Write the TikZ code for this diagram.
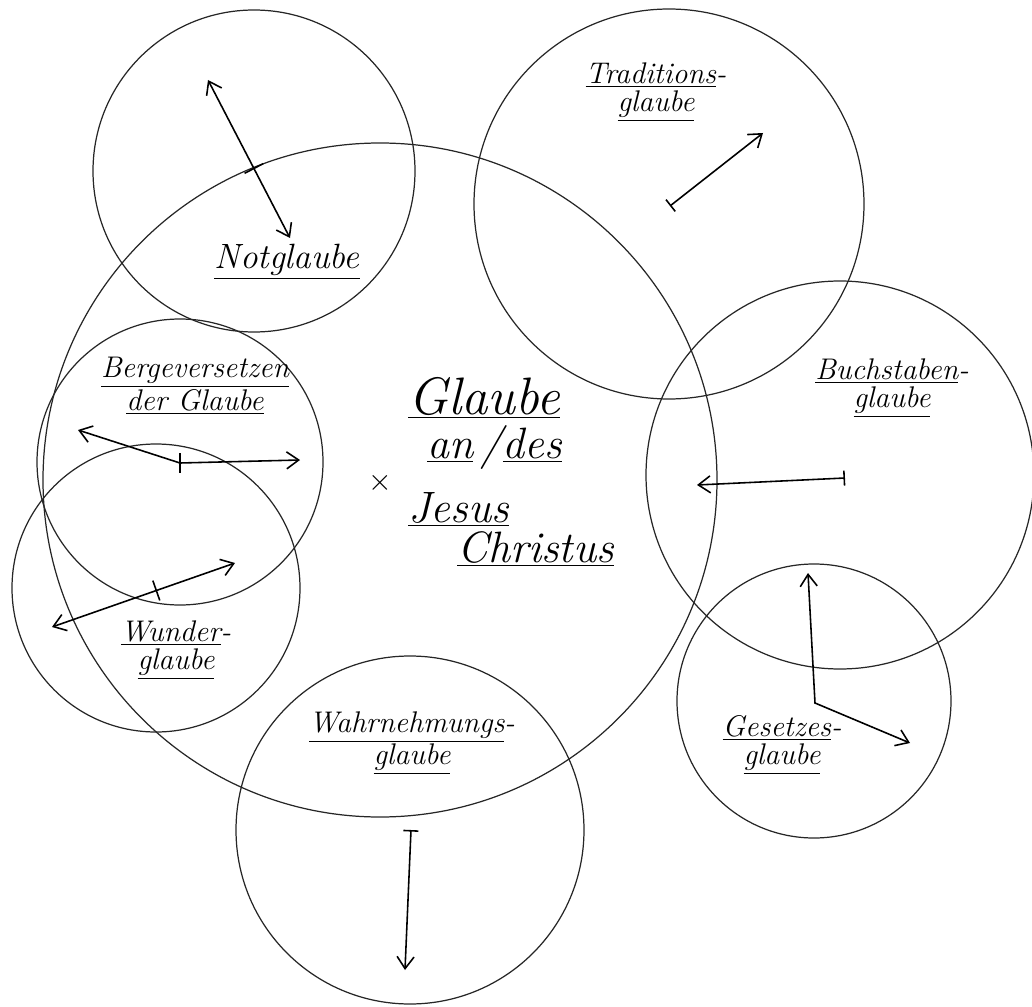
\documentclass[tikz,border=0pt]{standalone}
\usepackage{tikz}
\usetikzlibrary{arrows.meta,calc}

\begin{document}
\begin{tikzpicture}[x=0.02cm,y=-0.02cm,
  kreis/.style={draw=black!85,line width=0.7pt},
  spitze/.tip={Straight Barb[length=2.4mm,width=3.4mm]},
  pfeil/.style={line width=0.9pt,-spitze},
  doppelpfeil/.style={line width=0.9pt,spitze-spitze},
  stabpfeil/.style={line width=0.9pt,{Bar[width=3mm]}-spitze},
  etikett/.style={font=\itshape\fontsize{17}{16}\selectfont,align=center,inner sep=0pt},
  mitte/.style={font=\itshape\fontsize{25}{25}\selectfont,anchor=base west,inner sep=0pt}]
  \useasboundingbox (0,0) rectangle (1032,1007);

  % Kreise
  \draw[kreis] (380,480) circle[radius=337];
  \draw[kreis] (254,171) circle[radius=161];
  \draw[kreis] (669,204) circle[radius=195];
  \draw[kreis] (840,475) circle[radius=194];
  \draw[kreis] (814,701) circle[radius=137];
  \draw[kreis] (410,830) circle[radius=174];
  \draw[kreis] (180,462) circle[radius=143];
  \draw[kreis] (156,588) circle[radius=144];

  % Mitte
  \node[mitte,font=\itshape\fontsize{30}{30}\selectfont] (glaube) at (408,414) {\underline{Glaube}};
  \node[mitte] (ande) at (427,458) {\underline{an}\,/\underline{des}};
  \node[mitte] (jesus) at (408,522) {\underline{Jesus}};
  \node[mitte] (christus) at (457,562) {\underline{Christus}};
  \node[font=\fontsize{16}{16}\selectfont] (kreuz) at (380,483) {$\times$};

  % Beschriftungen
  \node[etikett,font=\itshape\fontsize{20}{20}\selectfont] (not) at (287,262) {\underline{Notglaube}};
  \node[etikett] (trad) at (656,92) {\underline{Traditions}-\\\underline{glaube}};
  \node[etikett] (berge) at (195,386) {\underline{Bergeversetzen}\\\underline{der Glaube}};
  \node[etikett] (buch) at (892,388) {\underline{Buchstaben}-\\\underline{glaube}};
  \node[etikett] (wunder) at (176,650) {\underline{Wunder}-\\\underline{glaube}};
  \node[etikett] (gesetz) at (782,745) {\underline{Gesetzes}-\\\underline{glaube}};
  \node[etikett] (wahr) at (412,743) {\underline{Wahrnehmungs}-\\\underline{glaube}};

  % Pfeile
  \coordinate (n1) at (208,80);
  \coordinate (n2) at (290,238);
  \coordinate (nt) at ($(n1)!0.56!(n2)$);
  \draw[doppelpfeil] (n1) -- (n2);
  \draw[line width=0.9pt] ($(nt)!6pt!90:(n2)$) -- ($(nt)!6pt!-90:(n2)$);

  \coordinate (t1) at (670,206);
  \coordinate (t2) at (763,133);
  \draw[stabpfeil] (t1) -- (t2);

  \coordinate (b1) at (78,430);
  \coordinate (bm) at (180,463);
  \coordinate (b2) at (300,460);
  \draw[doppelpfeil] (b1) -- (bm) -- (b2);
  \draw[line width=0.9pt] ($(bm)+(0,-10)$) -- ($(bm)+(0,10)$);

  \coordinate (w1) at (52,627);
  \coordinate (w2) at (235,563);
  \coordinate (wt) at ($(w1)!0.57!(w2)$);
  \draw[doppelpfeil] (w1) -- (w2);
  \draw[line width=0.9pt] ($(wt)!6pt!90:(w2)$) -- ($(wt)!6pt!-90:(w2)$);

  \coordinate (s1) at (845,478);
  \coordinate (s2) at (697,485);
  \draw[stabpfeil] (s1) -- (s2);

  \coordinate (g0) at (815,703);
  \coordinate (g1) at (808,573);
  \coordinate (g2) at (910,743);
  \draw[doppelpfeil] (g1) -- (g0) -- (g2);

  \coordinate (h1) at (411,830);
  \coordinate (h2) at (405,970);
  \draw[stabpfeil] (h1) -- (h2);
\end{tikzpicture}
\end{document}
